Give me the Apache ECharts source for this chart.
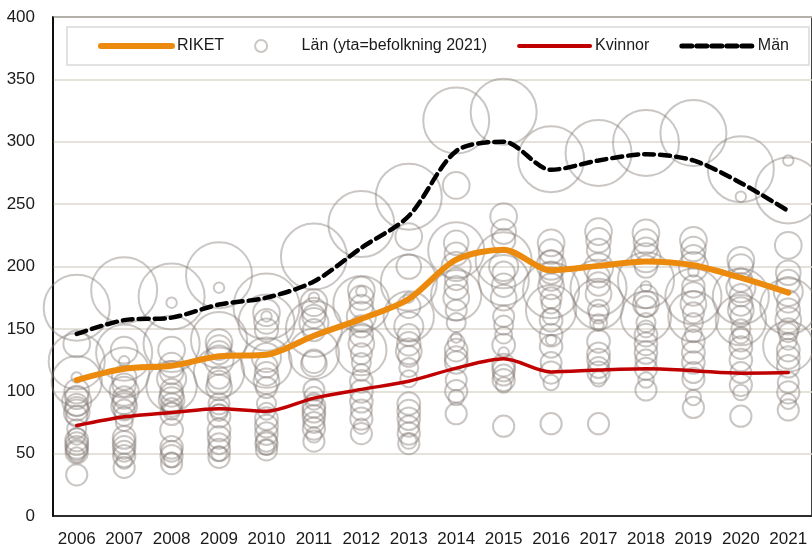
<!DOCTYPE html>
<html>
<head>
<meta charset="utf-8">
<script src="https://cdn.jsdelivr.net/npm/echarts@6/dist/echarts.min.js"></script>
<style>
  html, body { margin: 0; padding: 0; background: #fff; }
  #chart { width: 812px; height: 550px; }
</style>
</head>
<body>
<div id="chart"></div>
<script>
// Years on the category axis
const years = ['2006','2007','2008','2009','2010','2011','2012','2013','2014','2015','2016','2017','2018','2019','2020','2021'];

// National series
const riket   = [109, 118, 120.5, 128, 129.3, 144.5, 158, 174, 205.5, 213.5, 197, 200.5, 204, 201, 191, 179];
const kvinnor = [72.5, 79.5, 83, 86, 84, 94.5, 101.5, 108, 118.5, 126, 115.5, 117, 118, 116.5, 114.5, 115];
const man     = [146, 157, 159, 169.5, 175, 188, 215, 240.5, 292.5, 300, 277.5, 285, 290, 285, 267, 244.5];

// Counties and their population 2021 (bubble area)
const lanNamn = ['Stockholm','Västra Götaland','Skåne','Östergötland','Uppsala','Jönköping','Halland','Örebro',
  'Södermanland','Dalarna','Gävleborg','Värmland','Västmanland','Västerbotten','Norrbotten','Kalmar',
  'Västernorrland','Kronoberg','Blekinge','Jämtland','Gotland'];
const befolkning2021 = [2415139, 1744859, 1402425, 468339, 395026, 366479, 336148, 305842, 299401, 287966,
  287502, 282885, 278967, 274563, 249677, 246010, 244715, 202163, 159371, 131830, 61023];

// County values per year, same order as lanNamn
const lan2006 = [167,124,108, 92,138, 83,100, 86, 95, 58, 61, 55, 89, 51, 33, 80, 53, 70, 64, 49,111];
const lan2007 = [181,131,115,100,133, 88,111, 91,105, 59, 63, 55, 95, 48, 39, 85, 52, 80, 75, 44,124];
const lan2008 = [176,138,104,110,133, 93,121, 97,115, 69, 82, 55,101, 48, 42, 90, 52, 87, 84, 45,171];
const lan2009 = [193,141,115,125,139,103,135,107,131, 69, 80, 63,111, 53, 47, 90, 58, 86, 83, 50,183];
const lan2010 = [168,155,123,127,163,108,156,114,149, 72, 78, 66,120, 58, 53,103, 60, 90, 84, 55,160];
const lan2011 = [208,150,130,155,171,122,165,124,160, 84, 88, 80,149, 70, 60,101, 75, 96, 92, 65,175];
const lan2012 = [234,170,133,160,181,138,175,145,168,100,108, 92,152, 78, 66,130, 85,123,115, 72,180];
const lan2013 = [256,187,160,152,224,132,200,138,168, 84, 90, 78,145, 66, 58,128, 72,119,110, 60,175];
const lan2014 = [317,213,177,200,265,175,219,183,210,127,133,123,190,100, 82,165,109,155,139, 95,143];
const lan2015 = [324,205,189,200,240,175,228,185,221,121,137,117,195,109, 72,160,113,153,145,105,131];
const lan2016 = [286,181,165,201,219,184,212,190,204,145,157,136,195,115, 74,175,123,170,160,107,141];
const lan2017 = [291,183,170,199,228,178,221,186,213,130,140,125,192,115, 74,165,119,162,155,110,153];
const lan2018 = [299,189,160,207,227,170,220,176,214,138,145,131,200,118,101,168,125,155,150,109,184];
const lan2019 = [307,176,160,200,221,170,214,178,208,131,140,123,184,110, 87,163,115,155,146, 95,196];
const lan2020 = [278,176,157,183,205,165,200,170,189,135,141,125,177,105, 80,160,115,150,145, 99,256];
const lan2021 = [261,168,136,180,217,157,195,165,188,127,133,120,172, 99, 85,150,107,147,140, 92,285];
const lanPerAr = [lan2006, lan2007, lan2008, lan2009, lan2010, lan2011, lan2012, lan2013,
  lan2014, lan2015, lan2016, lan2017, lan2018, lan2019, lan2020, lan2021];

const FONT = "'Liberation Sans', Arial, sans-serif";
const ORANGE = '#EB8A0C';
const RED = '#C00000';
const BUBBLE = 'rgba(135,125,120,0.55)';
const HIDDEN = { opacity: 0 };

// Bubble area proportional to population; largest county gets a 66 px diameter
const maxPop = Math.max(...befolkning2021);
const lanData = [];
lanPerAr.forEach((vals, yi) => {
  vals.forEach((v, li) => {
    lanData.push({ value: [years[yi], v], symbolSize: 66 * Math.sqrt(befolkning2021[li] / maxPop) });
  });
});

const chart = echarts.init(document.getElementById('chart'), null, { renderer: 'canvas' });
chart.setOption({
  animation: false,
  backgroundColor: '#fff',
  grid: { left: 53, top: 17, width: 763, height: 499, show: true, borderColor: '#000', borderWidth: 1.5, backgroundColor: 'transparent' },
  legend: {
    left: 67, top: 27,
    padding: [11, 20, 11, 31],
    itemWidth: 71, itemHeight: 12, itemGap: 30,
    backgroundColor: '#fff', borderColor: '#e2e2e2', borderWidth: 2,
    textStyle: { fontFamily: FONT, fontSize: 16, color: '#1a1a1a' },
    selectedMode: false,
    data: [
      { name: 'RIKET', itemStyle: HIDDEN, lineStyle: { width: 6, color: ORANGE } },
      { name: 'Län (yta=befolkning 2021)', itemStyle: { color: 'rgba(0,0,0,0)', borderColor: 'rgba(135,125,120,0.55)', borderWidth: 2 } },
      { name: 'Kvinnor', itemStyle: HIDDEN, lineStyle: { width: 4, color: RED } },
      { name: 'Män', itemStyle: HIDDEN, lineStyle: { width: 5, color: '#000', type: [10, 5] } }
    ]
  },
  xAxis: {
    type: 'category',
    data: years,
    boundaryGap: true,
    axisLine: { lineStyle: { color: '#000', width: 1.5 } },
    axisTick: { show: false },
    axisLabel: { fontFamily: FONT, fontSize: 17, color: '#1a1a1a', margin: 15, interval: 0 },
    splitLine: { show: false }
  },
  yAxis: {
    type: 'value',
    min: 0, max: 400, interval: 50,
    axisLine: { show: true, lineStyle: { color: '#000', width: 1.5 } },
    axisTick: { show: false },
    axisLabel: { fontFamily: FONT, fontSize: 17, color: '#1a1a1a', margin: 18 },
    splitLine: { lineStyle: { color: '#dcd8cf', width: 1.5 } }
  },
  series: [
    {
      name: 'Län (yta=befolkning 2021)',
      type: 'scatter',
      data: lanData,
      symbol: 'circle',
      clip: false,
      silent: true,
      z: 1,
      itemStyle: { color: 'rgba(0,0,0,0)', borderColor: BUBBLE, borderWidth: 2 },
      emphasis: { disabled: true }
    },
    {
      name: 'Kvinnor', type: 'line', data: kvinnor, smooth: 0.3, symbol: 'none', z: 3,
      lineStyle: { color: RED, width: 3.5, cap: 'round' }, itemStyle: { color: RED }
    },
    {
      name: 'RIKET', type: 'line', data: riket, smooth: 0.3, symbol: 'none', z: 4,
      lineStyle: { color: ORANGE, width: 6, cap: 'round' }, itemStyle: { color: ORANGE }
    },
    {
      name: 'Män', type: 'line', data: man, smooth: 0.3, symbol: 'none', z: 5,
      lineStyle: { color: '#000', width: 4.5, type: [10, 6], cap: 'round' }, itemStyle: { color: '#000' }
    }
  ]
});
</script>
</body>
</html>
